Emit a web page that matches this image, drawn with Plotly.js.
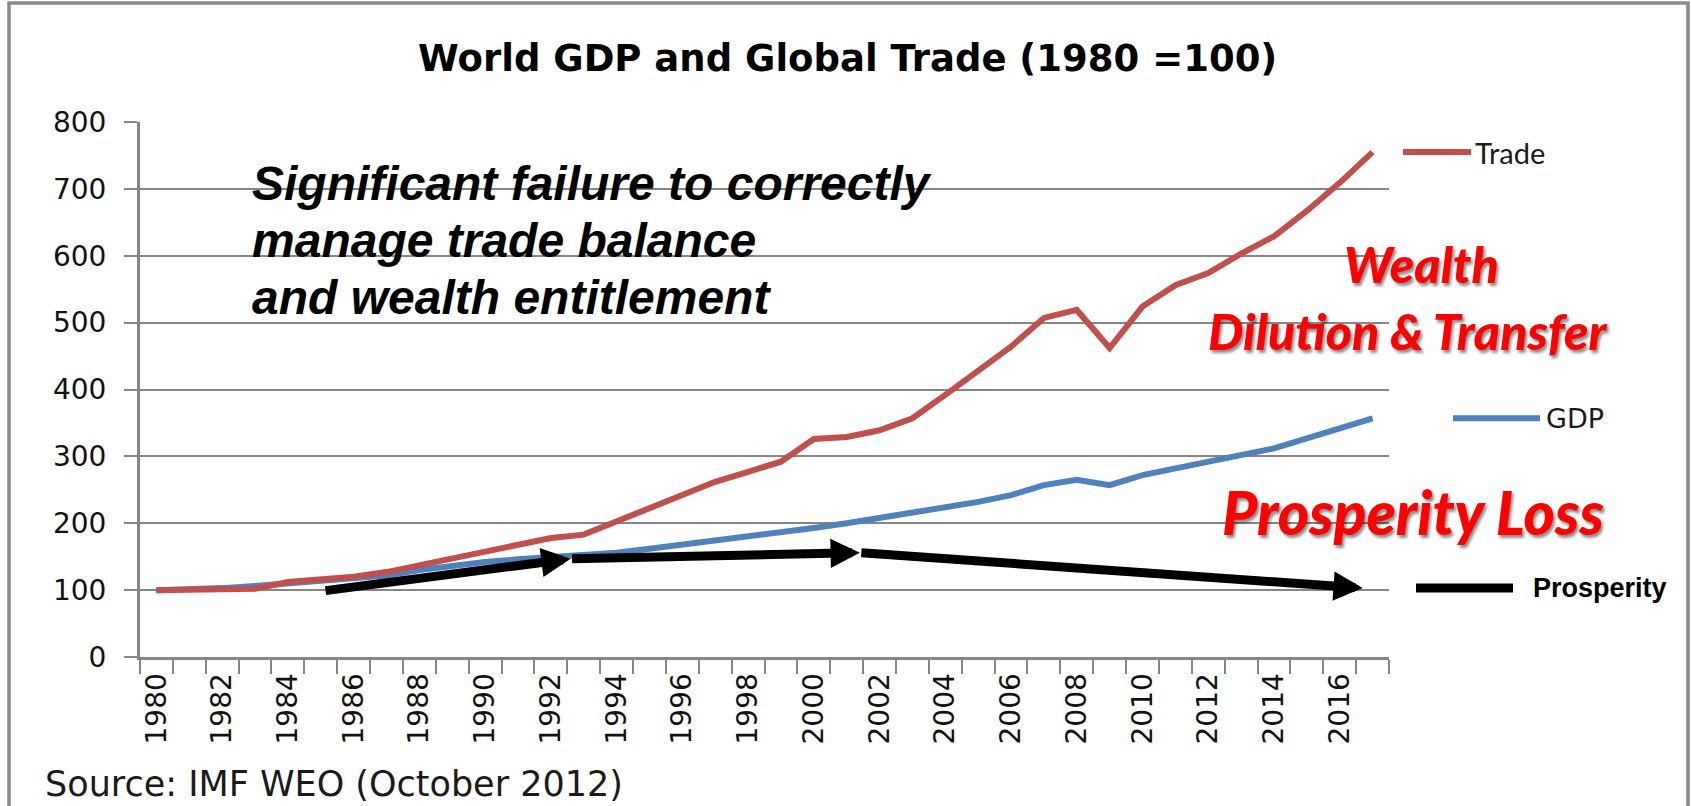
<!DOCTYPE html>
<html>
<head>
<meta charset="utf-8">
<script src="https://cdn.plot.ly/plotly-3.0.1.min.js"></script>
<style>html,body{margin:0;padding:0;background:#fff;}#chart{width:1692px;height:806px;}</style>
</head>
<body>
<div id="chart"></div>
<script>
// ---- data ----
const years = ["1980","1981","1982","1983","1984","1985","1986","1987","1988","1989",
  "1990","1991","1992","1993","1994","1995","1996","1997","1998","1999",
  "2000","2001","2002","2003","2004","2005","2006","2007","2008","2009",
  "2010","2011","2012","2013","2014","2015","2016","2017"];
const tradeValues = [100,100,100,102,112,116,120,127,137,149,
  157,168,178,183,203,223,243,262,277,292,
  326,329,339,357,392,427,464,507,519,462,
  524,556,574,603,629,667,709,755];
const gdpValues = [100,101,103,106,110,114,117,122,130,137,
  142,146,149,152,156,162,168,173,179,186,
  193,200,208,215,223,232,242,257,265,257,
  272,282,292,300,312,327,342,357];
const tickLabels = years.map((y, i) => (i % 2 === 0 ? y : ""));
// Prosperity arrow path (year position, index value)
const prosperityYears = [1985.1, 1992.6, 2001.4, 2016.7];
const prosperityValues = [99, 147, 156, 103];

const titleText = "World GDP and Global Trade (1980 =100)";
const sourceText = "Source: IMF WEO (October 2012)";
const boxLines = ["Significant failure to correctly", "manage trade balance", "and wealth entitlement"];

// ---- geometry helpers (plot area in page pixels) ----
const L = 140, R = 1389, T = 122, B = 657;
const px2x = p => (p - L) / (R - L);
const px2y = p => (B - p) / (B - T);
const yearIdx = y => y - 1980;

const grey = "#868686";
const redLine = "#C0504D", blueLine = "#4F81BD";

const traces = [
  {x: years, y: gdpValues, type: "scatter", mode: "lines", name: "GDP",
   line: {color: blueLine, width: 6}, hoverinfo: "skip"},
  {x: years, y: tradeValues, type: "scatter", mode: "lines", name: "Trade",
   line: {color: redLine, width: 6}, hoverinfo: "skip"}
];

const annotations = [];
// prosperity arrows
for (let i = 1; i < prosperityYears.length; i++) {
  annotations.push({
    xref: "x", yref: "y", axref: "x", ayref: "y",
    x: yearIdx(prosperityYears[i]), y: prosperityValues[i],
    ax: yearIdx(prosperityYears[i - 1]), ay: prosperityValues[i - 1],
    text: "", showarrow: true, arrowhead: 2, arrowsize: 0.65, arrowwidth: 9,
    arrowcolor: "#000000", standoff: 0, startstandoff: 0
  });
}
// black statement text
const lineYs = [183, 240, 297];
boxLines.forEach((t, i) => annotations.push({
  xref: "paper", yref: "paper", x: px2x(250), y: px2y(lineYs[i]),
  xanchor: "left", yanchor: "middle", showarrow: false, text: t,
  font: {family: "Liberation Sans, Arial, sans-serif", size: 48, color: "#000", weight: 700, style: "italic"}
}));
// red statements
const redFont = size => ({family: "Lato, sans-serif", size: size, color: "#FF0000", weight: 900, style: "italic",
  shadow: "2px 3px 3px rgba(0,0,0,0.45)"});
annotations.push({xref: "paper", yref: "paper", x: px2x(1422), y: px2y(264), xanchor: "center", yanchor: "middle",
  showarrow: false, text: "Wealth", font: redFont(50)});
annotations.push({xref: "paper", yref: "paper", x: px2x(1408), y: px2y(331), xanchor: "center", yanchor: "middle",
  showarrow: false, text: "Dilution &amp; Transfer", font: redFont(50)});
annotations.push({xref: "paper", yref: "paper", x: px2x(1413), y: px2y(512), xanchor: "center", yanchor: "middle",
  showarrow: false, text: "Prosperity Loss", font: redFont(60)});
// series labels (legend-like, placed at each series' final value)
const lastTrade = tradeValues[tradeValues.length - 1];
const lastGdp = gdpValues[gdpValues.length - 1];
const lastPros = prosperityValues[prosperityValues.length - 1];
annotations.push({xref: "paper", yref: "y", x: px2x(1473), y: lastTrade, xanchor: "left", yanchor: "middle",
  showarrow: false, text: "Trade", font: {family: "Lato, sans-serif", size: 29, color: "#1a1a1a"}});
annotations.push({xref: "paper", yref: "y", x: px2x(1544), y: lastGdp, xanchor: "left", yanchor: "middle",
  showarrow: false, text: "GDP", font: {family: "DejaVu Sans, sans-serif", size: 27, color: "#1a1a1a"}});
annotations.push({xref: "paper", yref: "y", x: px2x(1531), y: lastPros, xanchor: "left", yanchor: "middle",
  showarrow: false, text: "Prosperity", font: {family: "Liberation Sans, Arial, sans-serif", size: 27, color: "#000", weight: 700}});
// source
annotations.push({xref: "paper", yref: "paper", x: px2x(43), y: px2y(784), xanchor: "left", yanchor: "middle",
  showarrow: false, text: sourceText, font: {family: "DejaVu Sans, sans-serif", size: 35, color: "#1a1a1a"}});

const shapes = [
  // outer frame
  {type: "rect", xref: "paper", yref: "paper", x0: px2x(9), x1: px2x(1688), y0: px2y(900), y1: px2y(3),
   line: {color: "#8a8a8a", width: 3.5}, fillcolor: "rgba(0,0,0,0)", layer: "below"},
  // white box behind the statement
  {type: "rect", xref: "paper", yref: "paper", x0: px2x(228), x1: px2x(965), y0: px2y(350), y1: px2y(150),
   line: {width: 0}, fillcolor: "#ffffff", layer: "between"},
  // legend swatches
  {type: "line", xref: "paper", yref: "y", x0: px2x(1403), x1: px2x(1471), y0: lastTrade, y1: lastTrade,
   line: {color: redLine, width: 6}},
  {type: "line", xref: "paper", yref: "y", x0: px2x(1453), x1: px2x(1540), y0: lastGdp, y1: lastGdp,
   line: {color: blueLine, width: 6}},
  {type: "line", xref: "paper", yref: "y", x0: px2x(1416), x1: px2x(1513), y0: lastPros, y1: lastPros,
   line: {color: "#000", width: 9}}
];

const layout = {
  width: 1692, height: 806, autosize: false,
  margin: {l: L, r: 1692 - R, t: T, b: 806 - B, pad: 0},
  paper_bgcolor: "#ffffff", plot_bgcolor: "#ffffff",
  showlegend: false,
  title: {text: titleText, x: 0.501, xanchor: "center", y: 1 - 58 / 806, yanchor: "middle",
    font: {family: "DejaVu Sans, sans-serif", size: 37, color: "#000", weight: 700}},
  xaxis: {type: "category", tickmode: "array", tickvals: years, ticktext: tickLabels,
    tickson: "boundaries", ticks: "outside", ticklen: 14, tickwidth: 2, tickcolor: grey,
    showline: true, linecolor: grey, linewidth: 3, showgrid: false, zeroline: false,
    tickangle: -90, tickfont: {family: "DejaVu Sans, sans-serif", size: 28, color: "#111"},
    ticklabelstandoff: 2,
    range: [-0.5, years.length - 0.5], fixedrange: true},
  yaxis: {range: [0, 800], tickmode: "array", tickvals: [0,100,200,300,400,500,600,700,800],
    ticks: "outside", ticklen: 13, tickwidth: 2, tickcolor: grey,
    showline: true, linecolor: grey, linewidth: 3, showgrid: true, gridcolor: grey, gridwidth: 2,
    zeroline: false, tickfont: {family: "DejaVu Sans, sans-serif", size: 28, color: "#111"},
    ticklabelstandoff: 12, fixedrange: true},
  annotations: annotations,
  shapes: shapes
};

Plotly.newPlot("chart", traces, layout, {displayModeBar: false, staticPlot: true});
</script>
</body>
</html>
